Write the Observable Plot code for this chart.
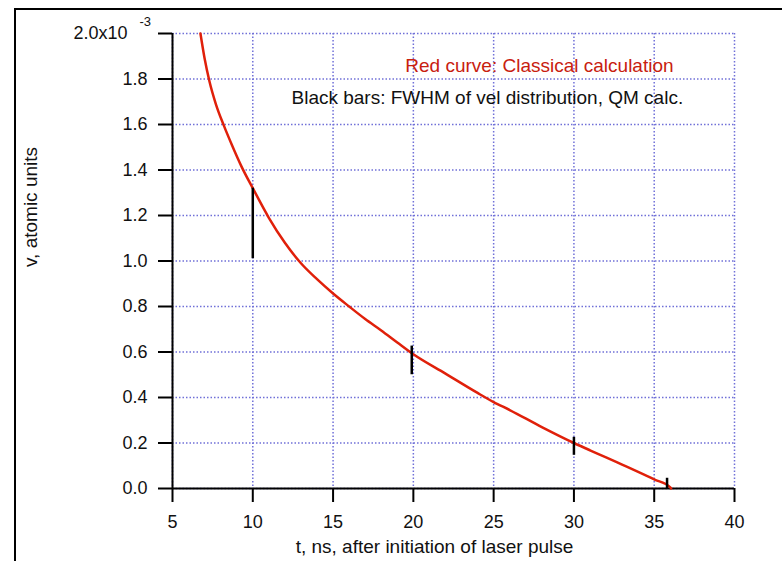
<!DOCTYPE html>
<html>
<head>
<meta charset="utf-8">
<script src="https://cdn.jsdelivr.net/npm/d3@7"></script>
<script src="https://cdn.jsdelivr.net/npm/@observablehq/plot@0.6"></script>
<style>
  html, body { margin: 0; padding: 0; background: white; }
  #chart { position: relative; width: 782px; height: 561px; overflow: hidden; }
</style>
</head>
<body>
<div id="chart"></div>
<script>
// Classical calculation (red curve): time t (ns), velocity v (atomic units, x10^-3)
const curveT = [6.74, 7.0, 7.3, 7.7, 8.2, 8.7, 9.3, 10, 11, 12, 13, 14, 15, 16, 17, 18, 19, 20, 22, 24, 25, 26, 28, 30, 31, 32, 33, 34, 35, 36, 36.05];
const curveV = [2.0, 1.89, 1.79, 1.69, 1.595, 1.51, 1.415, 1.32, 1.19, 1.08, 0.99, 0.92, 0.857, 0.80, 0.745, 0.695, 0.642, 0.59, 0.505, 0.42, 0.38, 0.345, 0.27, 0.20, 0.168, 0.137, 0.105, 0.073, 0.04, 0.005, 0.0];
// QM calc. FWHM bars
const barT  = [10, 19.9, 30, 35.8];
const barLo = [1.01, 0.50, 0.146, 0.0];
const barHi = [1.32, 0.626, 0.225, 0.045];
// Ticks
const xTicks = [5, 10, 15, 20, 25, 30, 35, 40];
const yTicks = [0, 0.2, 0.4, 0.6, 0.8, 1.0, 1.2, 1.4, 1.6, 1.8, 2.0];
const xLabel = "t, ns, after initiation of laser pulse";
const yLabel = "v, atomic units";
const note1 = "Red curve: Classical calculation";
const note2 = "Black bars: FWHM of vel distribution, QM calc.";

const curve = curveT.map((t, i) => ({t, v: curveV[i]}));
const bars = barT.map((t, i) => ({t, lo: barLo[i], hi: barHi[i]}));

const gridStyle = {stroke: "#7070d8", strokeOpacity: 1, strokeWidth: 1.5, strokeDasharray: "1.5,2"};
const font = "'Liberation Sans', Arial, sans-serif";

const plot = Plot.plot({
  width: 782,
  height: 561,
  marginLeft: 172,
  marginRight: 48,
  marginTop: 33,
  marginBottom: 73,
  style: {fontFamily: font, fontSize: "18px", background: "white", color: "#111", overflow: "visible"},
  x: {domain: [5, 40]},
  y: {domain: [0, 2]},
  marks: [
    Plot.gridX(xTicks, gridStyle),
    Plot.gridY(yTicks, gridStyle),
    Plot.ruleX([5], {stroke: "black", strokeWidth: 2}),
    Plot.ruleY([0], {stroke: "black", strokeWidth: 2}),
    Plot.axisX({ticks: xTicks, tickSize: 14, tickPadding: 13, strokeWidth: 2, stroke: "black", label: null, fontSize: 18}),
    Plot.axisY({ticks: yTicks, tickSize: 14, tickPadding: 11, strokeWidth: 2, stroke: "black", label: null, fontSize: 18,
      tickFormat: d => (Math.abs(d - 2) < 1e-9 ? "" : d.toFixed(1))}),
    Plot.text([2.0], {x: () => 5, y: d => d, text: () => "2.0x10", textAnchor: "end", dx: -45, fontSize: 18, fill: "#111"}),
    Plot.text([2.0], {x: () => 5, y: d => d, text: () => "-3", textAnchor: "start", dx: -33, dy: -12, fontSize: 13, fill: "#111"}),
    Plot.line(curve, {x: "t", y: "v", stroke: "#e0200a", strokeWidth: 2.5, curve: "monotone-x"}),
    Plot.ruleX(bars, {x: "t", y1: "lo", y2: "hi", stroke: "black", strokeWidth: 2.5}),
    Plot.text([note1], {x: () => 19.5, y: () => 1.859, text: d => d, textAnchor: "start", fill: "#c8200e", fontSize: 19}),
    Plot.text([note2], {x: () => 12.41, y: () => 1.719, text: d => d, textAnchor: "start", fill: "#111", fontSize: 19}),
    Plot.text([xLabel], {frameAnchor: "bottom", text: d => d, dx: -19, dy: 64, fontSize: 19, fill: "#111"}),
    Plot.text([yLabel], {frameAnchor: "left", text: d => d, rotate: -90, dx: -142, dy: 6, fontSize: 19, fill: "#111"})
  ]
});

document.getElementById("chart").appendChild(plot);
// outer frame of the figure
d3.select(plot).append("rect")
  .attr("x", 15).attr("y", 9).attr("width", 820).attr("height", 620)
  .attr("fill", "none").attr("stroke", "black").attr("stroke-width", 2);
</script>
</body>
</html>
